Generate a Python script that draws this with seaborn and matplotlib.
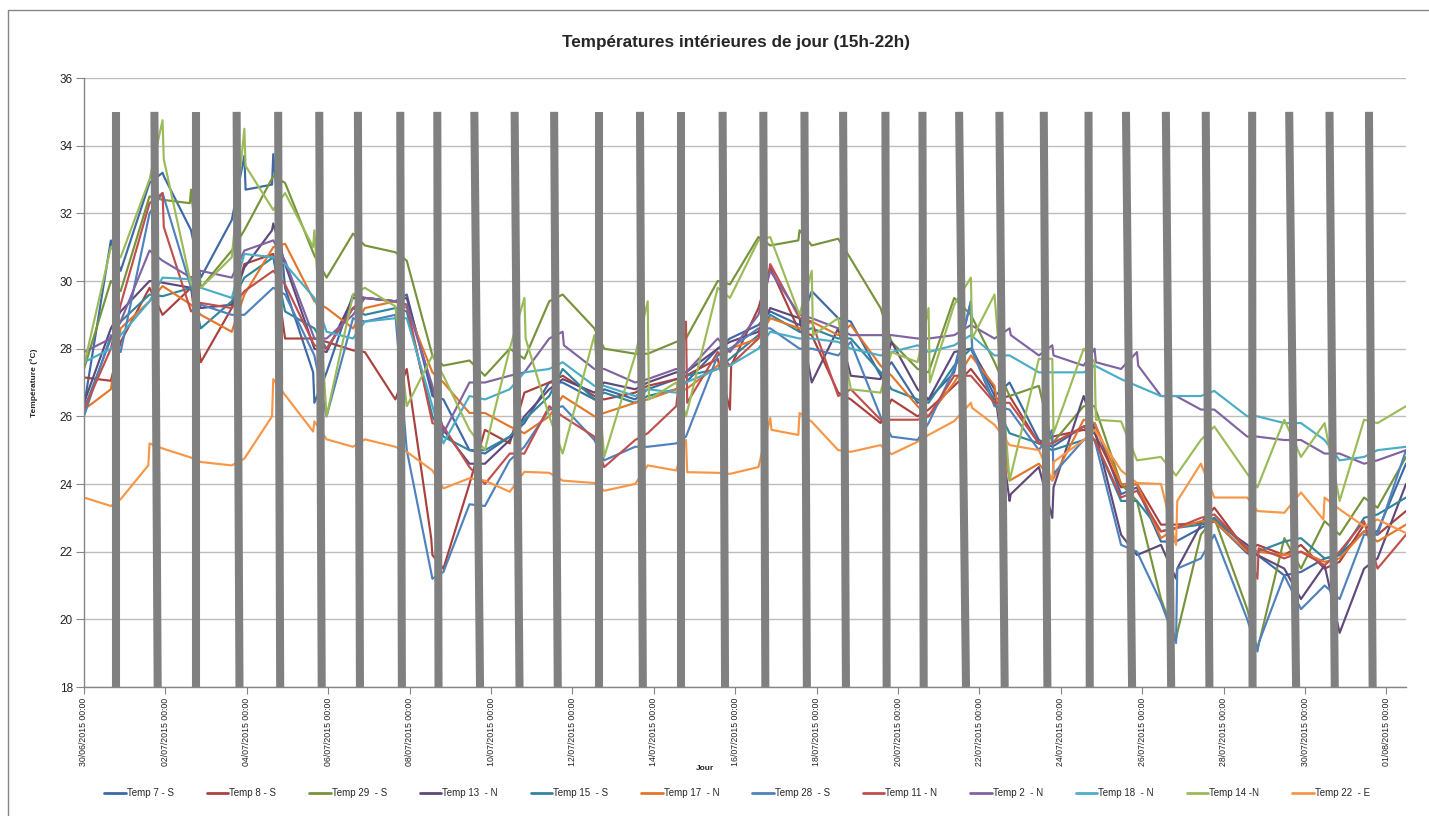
import numpy as np
import pandas as pd
import matplotlib
matplotlib.use("Agg")
import matplotlib.pyplot as plt
from matplotlib.lines import Line2D
import seaborn as sns

# ---------------------------------------------------------------------------
# Time base: days counted from 30/06/2015 00:00
debut = pd.Timestamp("2015-06-30 00:00")
fin_jours = 32.48
graduations_jours = list(range(0, 33, 2))

# Night bands (gray bars): day offset of the top end (35 °C) and bottom end (18 °C)
nuit_haut = [0.78, 1.73, 2.75, 3.75, 4.77, 5.78, 6.73, 7.77, 8.68, 9.59, 10.58,
             11.55, 12.66, 13.66, 14.67, 15.69, 16.69, 17.70, 18.65, 19.69, 20.60,
             21.50, 22.49, 23.58, 24.68, 25.60, 26.58, 27.56, 28.70, 29.61, 30.60, 31.57]
nuit_bas = [0.78, 1.81, 2.75, 3.82, 4.82, 5.84, 6.78, 7.81, 8.71, 9.73, 10.70,
            11.64, 12.66, 13.73, 14.67, 15.75, 16.74, 17.76, 18.72, 19.72, 20.63,
            21.67, 22.62, 23.67, 24.71, 25.75, 26.71, 27.65, 28.71, 29.78, 30.73, 31.66]
nuit_valeurs = (35.0, 18.0)

# Each sensor: value leaving a night band ("apres", first = start of record)
# and value reaching the next band ("avant", last = end of record), in °C.
# "pics" are short excursions at a band edge: (band, "g"=left / "d"=right, °C).
t7_apres = [26.3, 30.3, 33.1, 30.1, 32.7, 29.8, 27.3, 29.5, 29.6, 26.5, 24.9, 25.8, 27.0,
            26.8, 26.8, 27.0, 28.3, 29.1, 29.7, 28.8, 27.6, 26.5, 28.0, 27.0, 25.1, 25.8,
            23.9, 22.3, 22.9, 21.9, 21.4, 21.9, 22.6]
t7_avant = [31.2, 32.9, 31.5, 31.8, 32.85, 27.3, 29.6, 29.4, 26.6, 25.0, 25.4, 27.0, 26.5,
            26.5, 27.1, 28.0, 28.7, 28.7, 28.9, 27.2, 26.4, 27.3, 26.6, 25.3, 25.7, 23.7,
            22.3, 22.7, 21.95, 21.3, 21.8, 22.6, 24.6]
t7_pics = [(1, "d", 33.2), (3, "d", 33.7), (4, "g", 33.75), (5, "g", 26.4), (21, "d", 29.4)]

t8_apres = [27.15, 28.2, 29.0, 27.6, 30.5, 28.3, 28.2, 27.9, 27.4, 21.5, 25.6, 26.7, 27.2,
            26.5, 26.9, 27.2, 27.5, 30.4, 28.4, 26.5, 26.5, 26.2, 27.4, 26.6, 25.4, 25.5,
            24.0, 22.8, 23.3, 22.2, 22.2, 21.7, 22.5]
t8_avant = [27.05, 29.8, 29.8, 29.2, 30.8, 28.3, 27.95, 26.5, 22.4, 24.0, 25.2, 27.0, 26.6,
            26.7, 27.1, 27.7, 29.2, 28.5, 26.7, 25.8, 26.0, 26.9, 26.5, 25.2, 25.6, 23.9,
            22.8, 22.85, 22.0, 21.9, 21.5, 22.8, 23.2]
t8_pics = [(8, "g", 21.9), (15, "d", 26.2)]

t29_apres = [27.4, 29.7, 32.4, 29.8, 31.5, 32.9, 30.1, 31.05, 30.6, 27.5, 27.2, 27.7, 29.6,
             28.0, 27.85, 28.3, 29.9, 31.05, 31.05, 30.65, 28.2, 27.3, 29.0, 26.6, 25.2,
             26.3, 23.5, 19.6, 23.0, 19.1, 21.5, 22.5, 23.3]
t29_avant = [30.0, 32.5, 32.3, 30.9, 33.1, 30.75, 31.4, 30.85, 27.8, 27.65, 28.0, 29.4, 28.6,
             27.85, 28.2, 30.0, 31.3, 31.2, 31.25, 29.2, 27.4, 29.5, 27.6, 26.9, 26.3, 24.0,
             20.6, 22.5, 20.3, 22.4, 22.9, 23.6, 24.8]
t29_pics = [(2, "g", 32.7), (17, "g", 31.5), (26, "d", 19.4)]

t13_apres = [26.4, 29.1, 29.95, 29.2, 30.4, 30.5, 27.9, 29.5, 29.5, 25.6, 24.6, 26.0, 27.1,
             27.0, 27.0, 27.3, 28.2, 29.2, 27.0, 27.2, 28.2, 26.5, 28.0, 23.7, 23.9, 25.6,
             21.9, 21.5, 22.9, 21.9, 20.6, 19.6, 21.8]
t13_avant = [28.6, 30.0, 29.8, 29.3, 31.5, 28.0, 29.5, 29.4, 26.8, 24.6, 25.3, 26.8, 26.7,
             26.8, 27.3, 28.0, 28.5, 28.9, 28.6, 27.1, 26.8, 27.9, 26.8, 24.5, 26.6, 22.5,
             22.2, 22.8, 22.2, 21.5, 21.6, 21.5, 24.0]
t13_pics = [(4, "g", 31.7), (22, "d", 23.5), (23, "d", 23.0), (26, "d", 21.2)]

t15_apres = [26.2, 28.8, 29.55, 28.6, 30.1, 29.1, 28.0, 29.0, 29.1, 25.4, 25.0, 25.9, 27.4,
             26.7, 26.6, 27.2, 27.7, 29.0, 28.6, 28.3, 26.8, 26.4, 28.0, 25.5, 25.0, 25.3,
             23.5, 22.7, 23.0, 22.0, 22.4, 21.9, 23.1]
t15_avant = [28.3, 29.6, 29.8, 29.4, 30.7, 28.6, 29.2, 29.2, 26.0, 25.0, 25.4, 26.6, 26.5,
             26.4, 26.8, 27.4, 28.4, 28.5, 28.3, 27.3, 26.5, 27.5, 26.4, 25.2, 25.3, 23.5,
             22.6, 22.8, 22.1, 22.3, 21.8, 23.0, 23.6]
t15_pics = []

t17_apres = [26.2, 28.6, 29.85, 29.0, 29.6, 31.1, 29.2, 29.2, 29.2, 27.0, 26.1, 25.5, 26.6,
             26.1, 26.5, 26.8, 28.0, 28.9, 28.8, 28.7, 27.2, 26.0, 27.8, 24.1, 24.1, 25.8,
             24.0, 22.7, 22.9, 22.0, 22.0, 21.8, 22.3]
t17_avant = [26.8, 29.4, 29.3, 28.5, 31.0, 29.4, 28.6, 29.4, 27.3, 26.1, 25.7, 26.0, 26.0,
             26.4, 26.8, 27.5, 28.3, 28.6, 28.4, 27.5, 26.3, 27.0, 26.9, 24.6, 25.9, 24.0,
             22.4, 22.9, 22.0, 21.9, 21.7, 22.6, 22.8]
t17_pics = []

t28_apres = [26.0, 27.9, 32.6, 29.3, 29.0, 29.6, 26.0, 28.8, 25.0, 21.4, 23.35, 25.1, 26.3,
             24.7, 25.1, 25.4, 28.0, 28.6, 28.0, 28.2, 25.4, 25.8, 28.0, 26.2, 24.3, 25.3,
             22.0, 21.5, 22.5, 19.3, 20.3, 20.6, 22.5]
t28_avant = [28.4, 32.0, 29.8, 29.0, 29.8, 27.8, 28.9, 29.0, 21.2, 23.4, 24.7, 26.2, 25.3,
             25.1, 25.2, 27.8, 28.6, 28.0, 27.8, 26.0, 25.3, 27.4, 26.3, 25.0, 25.3, 22.2,
             20.5, 21.8, 20.0, 21.3, 21.0, 22.5, 25.0]
t28_pics = [(21, "d", 29.4), (23, "d", 25.6), (26, "d", 19.3), (28, "d", 19.05)]

t11_apres = [26.2, 29.3, 31.6, 29.35, 29.7, 29.9, 28.0, 29.5, 29.3, 25.7, 24.0, 24.9, 26.0,
             24.5, 25.5, 26.4, 27.5, 30.5, 28.8, 26.8, 25.9, 26.0, 27.2, 26.4, 25.2, 25.3,
             23.8, 22.7, 23.1, 22.1, 22.0, 22.0, 21.5]
t11_avant = [28.0, 32.3, 29.1, 29.2, 30.3, 28.1, 29.2, 29.4, 25.8, 24.5, 24.9, 26.3, 25.4,
             25.3, 26.3, 27.9, 28.3, 28.9, 26.6, 25.9, 25.9, 27.2, 26.4, 25.2, 25.7, 23.6,
             22.6, 23.0, 22.1, 21.8, 21.6, 22.9, 22.5]
t11_pics = [(1, "d", 32.6), (14, "d", 28.8), (28, "d", 21.2)]

t2_apres = [27.9, 28.8, 30.6, 30.3, 30.9, 30.6, 28.3, 29.5, 29.3, 25.5, 27.0, 27.3, 28.1,
            27.4, 27.1, 27.3, 27.9, 30.3, 28.9, 28.4, 28.4, 28.3, 28.7, 28.4, 27.8, 27.6,
            27.5, 26.6, 26.2, 25.4, 25.3, 24.9, 24.7]
t2_avant = [28.3, 30.9, 30.1, 30.1, 31.2, 28.3, 29.0, 29.4, 26.9, 27.0, 27.2, 28.3, 27.4,
            27.0, 27.4, 28.3, 29.0, 29.0, 28.6, 28.4, 28.3, 28.4, 28.3, 27.8, 27.5, 27.4,
            26.6, 26.2, 25.4, 25.3, 24.9, 24.6, 25.0]
t2_pics = [(11, "d", 28.5), (22, "d", 28.6), (23, "d", 28.1), (24, "d", 28.0), (25, "d", 27.9)]

t18_apres = [27.6, 28.4, 30.1, 29.8, 30.8, 30.5, 28.5, 28.8, 28.9, 25.2, 26.5, 27.3, 27.6,
             26.9, 26.8, 27.0, 27.5, 28.5, 28.3, 28.0, 27.9, 27.9, 28.4, 27.8, 27.3, 27.5,
             26.9, 26.6, 26.75, 26.0, 25.8, 24.7, 25.0]
t18_avant = [28.0, 29.4, 30.05, 29.5, 30.7, 29.5, 28.3, 28.9, 26.3, 26.6, 26.8, 27.4, 26.9,
             26.6, 26.7, 27.4, 28.0, 28.3, 28.2, 27.8, 28.1, 28.1, 27.8, 27.3, 27.3, 27.1,
             26.6, 26.6, 26.0, 25.8, 25.3, 24.8, 25.1]
t18_pics = []

t14_apres = [27.5, 30.7, 33.6, 29.8, 33.4, 32.6, 26.0, 29.8, 26.3, 27.2, 25.0, 28.3, 24.9,
             24.8, 26.5, 26.0, 29.5, 31.2, 28.4, 26.8, 27.9, 27.0, 28.3, 24.1, 25.5, 25.9,
             24.7, 24.25, 25.7, 23.9, 24.8, 23.5, 25.8]
t14_avant = [31.0, 33.0, 29.9, 30.7, 32.1, 31.0, 29.6, 29.25, 27.8, 25.6, 28.0, 26.0, 28.4,
             27.8, 27.0, 29.8, 31.2, 29.0, 28.9, 26.7, 27.6, 29.3, 29.6, 27.7, 28.0, 25.85,
             24.8, 25.3, 24.3, 25.9, 25.8, 25.9, 26.3]
t14_pics = [(1, "d", 34.75), (3, "d", 34.5), (5, "g", 31.5), (10, "d", 29.5), (13, "d", 29.4),
            (16, "d", 31.3), (17, "d", 30.3), (20, "d", 29.2), (21, "d", 30.1), (23, "d", 27.7),
            (24, "d", 27.6)]

t22_apres = [23.6, 23.55, 25.05, 24.65, 24.75, 26.63, 25.32, 25.32, 24.95, 23.87, 24.1, 24.36,
             24.1, 23.8, 24.55, 24.35, 24.3, 25.6, 25.84, 24.95, 24.88, 25.45, 26.25, 25.15,
             24.65, 25.6, 24.03, 23.5, 23.6, 23.2, 23.75, 23.25, 22.95]
t22_avant = [23.35, 24.55, 24.78, 24.55, 26.0, 25.55, 25.1, 25.1, 24.4, 24.17, 23.77, 24.33,
             24.03, 24.0, 24.4, 24.33, 24.5, 25.45, 25.0, 25.15, 25.25, 25.86, 25.75, 25.0,
             25.3, 24.4, 24.0, 24.6, 23.6, 23.15, 22.95, 22.75, 22.55]
t22_pics = [(1, "g", 25.2), (4, "g", 27.1), (5, "g", 25.85), (14, "d", 25.3), (16, "d", 25.95),
            (17, "g", 26.1), (21, "d", 26.4), (23, "d", 24.1), (26, "d", 22.2), (30, "g", 23.6)]

noms = ["Temp 7 - S", "Temp 8 - S", "Temp 29  - S", "Temp 13  - N", "Temp 15  - S",
        "Temp 17  - N", "Temp 28  - S", "Temp 11 - N", "Temp 2  - N", "Temp 18  - N",
        "Temp 14 -N", "Temp 22  - E"]
couleurs = ["#3D69A4", "#A9413E", "#77933C", "#5F497A", "#31859C", "#E2772C",
            "#4F81BD", "#C0504D", "#8064A2", "#4BACC6", "#9BBB59", "#F79646"]
donnees = [(t7_apres, t7_avant, t7_pics), (t8_apres, t8_avant, t8_pics),
           (t29_apres, t29_avant, t29_pics), (t13_apres, t13_avant, t13_pics),
           (t15_apres, t15_avant, t15_pics), (t17_apres, t17_avant, t17_pics),
           (t28_apres, t28_avant, t28_pics), (t11_apres, t11_avant, t11_pics),
           (t2_apres, t2_avant, t2_pics), (t18_apres, t18_avant, t18_pics),
           (t14_apres, t14_avant, t14_pics), (t22_apres, t22_avant, t22_pics)]


def trace(apres, avant, pics):
    """Build the (day, value) path of one sensor around the night bands."""
    pic_g = {b: v for b, c, v in pics if c == "g"}
    pic_d = {b: v for b, c, v in pics if c == "d"}
    jours, vals = [], []
    n = len(nuit_haut)
    for k in range(len(apres)):
        ta = 0.0 if k == 0 else nuit_bas[k - 1] + 0.12
        tb = fin_jours if k == n else nuit_haut[k] - 0.12
        if k > 0 and (k - 1) in pic_d:
            jours += [ta, ta + 0.03]
            vals += [pic_d[k - 1], apres[k]]
        else:
            jours.append(ta)
            vals.append(apres[k])
        if k < n and k in pic_g:
            jours += [tb - 0.03, tb]
            vals += [avant[k], pic_g[k]]
        else:
            jours.append(tb)
            vals.append(avant[k])
    return jours, vals


lignes = []
for nom, (ap, av, pc) in zip(noms, donnees):
    j, v = trace(ap, av, pc)
    for jj, vv in zip(j, v):
        lignes.append({"Série": nom, "Date": debut + pd.to_timedelta(jj, unit="D"),
                       "Température": vv})
df = pd.DataFrame(lignes)

# ---------------------------------------------------------------------------
sns.set_theme(style="white")
plt.rcParams["font.family"] = ["Liberation Sans", "DejaVu Sans"]

fig = plt.figure(figsize=(14.29, 8.16), dpi=100)
ax = fig.add_axes([84 / 1429, 1 - 687 / 816, (1406 - 84) / 1429, (687 - 78) / 816])

sns.lineplot(data=df, x="Date", y="Température", hue="Série", hue_order=noms,
             palette=dict(zip(noms, couleurs)), sort=False, estimator=None,
             linewidth=1.55, ax=ax, zorder=2)

# Night bands
for th, tbs in zip(nuit_haut, nuit_bas):
    ax.plot([debut + pd.to_timedelta(th, unit="D"), debut + pd.to_timedelta(tbs, unit="D")],
            list(nuit_valeurs), color="#808080", lw=5.8, solid_capstyle="butt", zorder=3)

ax.set_ylim(18, 36)
ax.set_xlim(debut, debut + pd.to_timedelta(fin_jours, unit="D"))
ax.set_yticks(np.arange(18, 37, 2))
ticks = [debut + pd.to_timedelta(d, unit="D") for d in graduations_jours]
ax.set_xticks(ticks)
ax.set_xticklabels([t.strftime("%d/%m/%Y %H:%M") for t in ticks], rotation=90,
                   fontsize=6.3, color="#222222")
ax.tick_params(axis="y", labelsize=8.5, colors="#222222", length=6, width=0.8,
               color="#868686", direction="out", left=True, pad=2)
ax.tick_params(axis="x", length=5, width=0.8, color="#868686", direction="out",
               bottom=True, pad=3)
ax.yaxis.grid(True, color="#BDBDBD", lw=1.0)
ax.xaxis.grid(False)
for s in ["top", "right"]:
    ax.spines[s].set_visible(False)
for s in ["left", "bottom"]:
    ax.spines[s].set_color("#868686")
    ax.spines[s].set_linewidth(1.0)

ax.set_xlabel("Jour", fontsize=6, fontweight="bold")
ax.xaxis.set_label_coords((705 - 84) / 1322, (687 - 765) / 609)
ax.set_ylabel("Température (°C)", fontsize=6, fontweight="bold")
ax.yaxis.set_label_coords((38 - 84) / 1322, 0.5)
fig.text(736 / 1429, 1 - 42 / 816, "Températures intérieures de jour (15h-22h)",
         ha="center", va="center", fontsize=12.3, fontweight="bold")

sns.move_legend(ax, "center", bbox_to_anchor=(0.494, -0.174), ncol=12, frameon=False,
                title=None, fontsize=7, handlelength=2.2, handletextpad=0.1,
                columnspacing=3.4)
for h in ax.get_legend().legend_handles:
    h.set_linewidth(2.0)

# Chart-area frame
fig.add_artist(Line2D([8 / 1429, 8 / 1429], [0, 1 - 10 / 816], transform=fig.transFigure,
                      color="#868686", lw=1.0))
fig.add_artist(Line2D([8 / 1429, 1], [1 - 10 / 816, 1 - 10 / 816], transform=fig.transFigure,
                      color="#868686", lw=1.0))

fig.savefig("out.png", dpi=100)
